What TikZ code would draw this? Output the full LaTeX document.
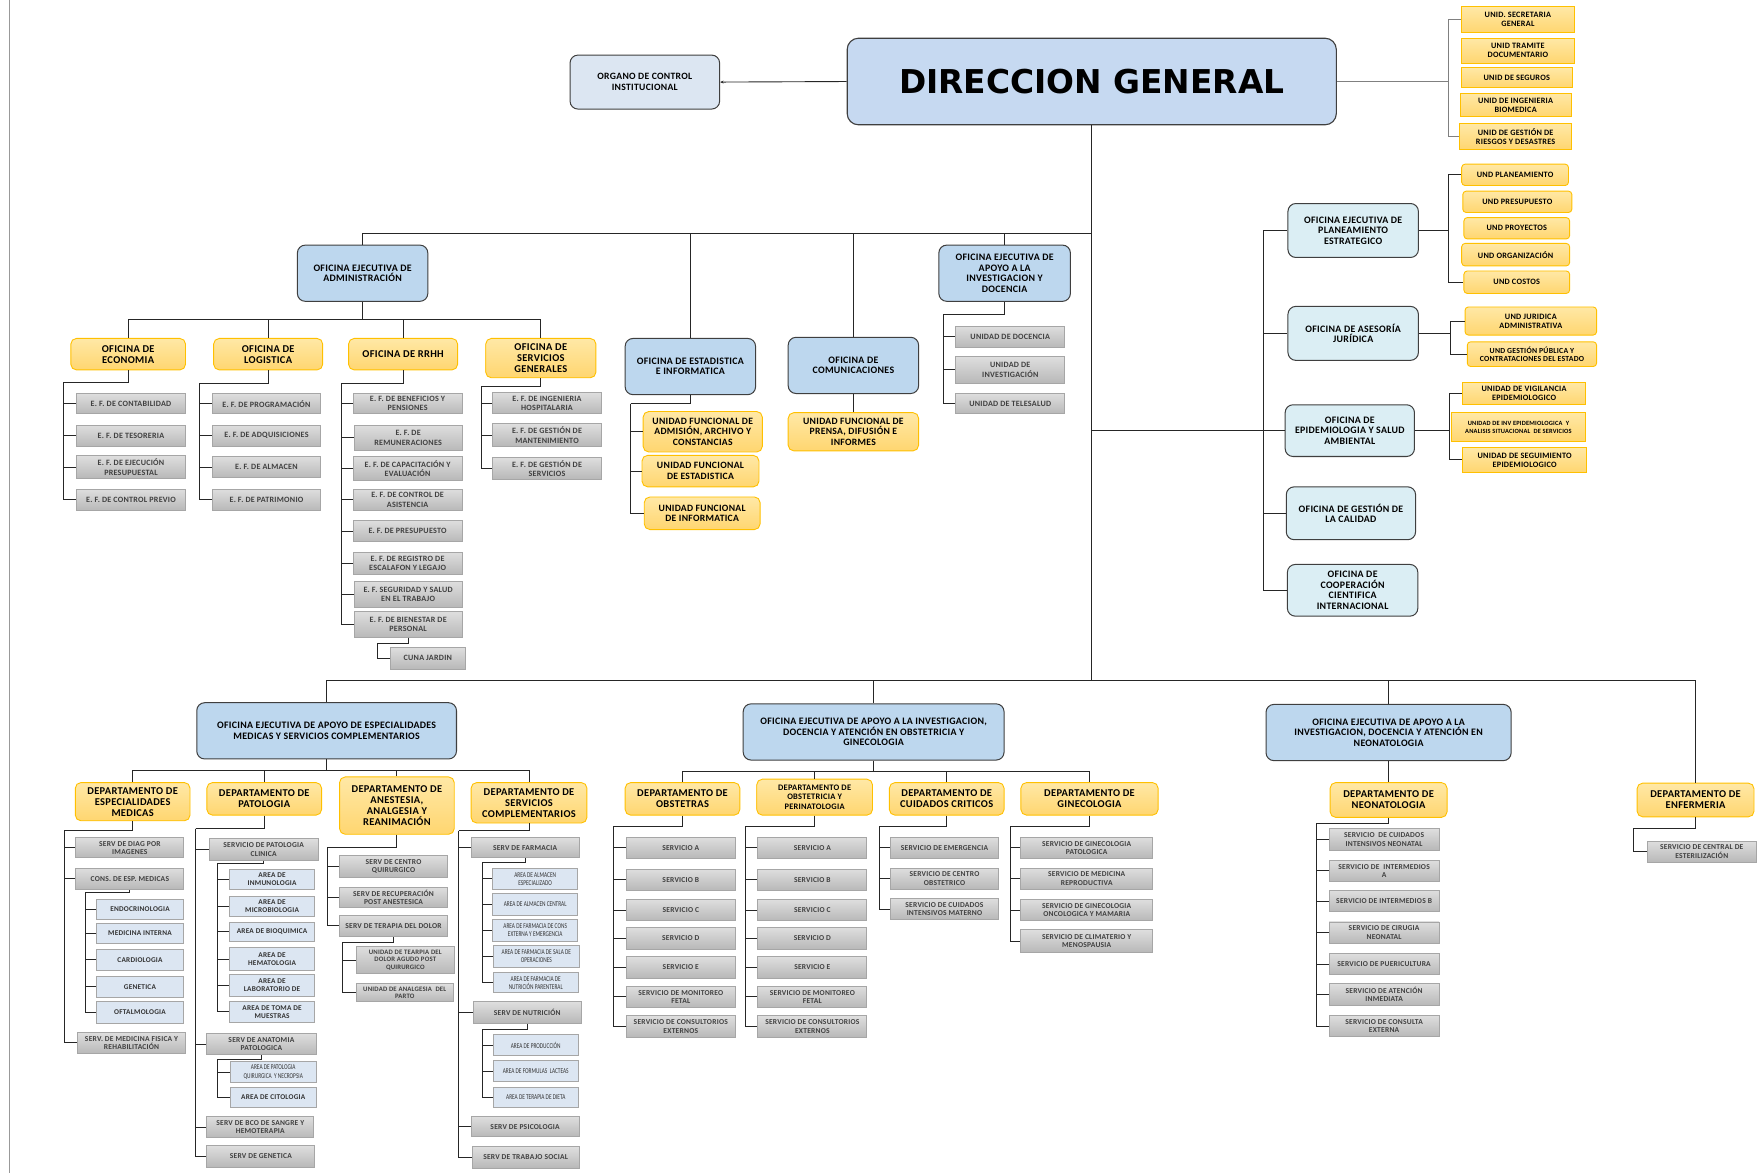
\documentclass[tikz,border=0pt]{standalone}
\usepackage{fontspec}
\setmainfont{Carlito}[LetterSpace=3]
\newfontfamily\dgfont{DejaVu Sans}
\newfontfamily\narrowfont{Carlito}[FakeStretch=0.72]
\usetikzlibrary{arrows.meta}
\definecolor{dgblue}{HTML}{C6D9F1}
\definecolor{oeblue}{HTML}{BDD7EE}
\definecolor{ofblue}{HTML}{DBEEF4}
\definecolor{ocblue}{HTML}{DCE6F2}
\definecolor{areablue}{HTML}{DCE6F2}
\definecolor{ygold}{HTML}{FFC000}
\definecolor{ytop}{HTML}{FFE8A6}
\definecolor{ybot}{HTML}{FFD670}
\definecolor{gtop}{HTML}{DEDEDE}
\definecolor{gbot}{HTML}{B8B8B8}
\definecolor{gline}{HTML}{A6A6A6}
\definecolor{ofline}{HTML}{3F3F3F}

\begin{document}
\begin{tikzpicture}[x=1pt, y=-1pt,
    sz/.style 2 args={minimum width=#1pt, minimum height=#2pt},
    ln/.style={draw=black!85, line width=0.8pt},
    lng/.style={draw=black!50, line width=0.8pt},
    dgbox/.style={draw=ofline, line width=1pt, rounded corners=10pt, fill=dgblue, font=\dgfont\bfseries\fontsize{29.2}{32}\selectfont},
    oebox/.style={draw=ofline, line width=0.9pt, rounded corners=7pt, fill=oeblue, align=center, inner sep=1pt, font=\bfseries\fontsize{8.8}{9.3}\selectfont},
    ofbox/.style={oebox, fill=ofblue},
    ybox/.style={draw=ygold, line width=0.8pt, rounded corners=5pt, top color=ytop, bottom color=ybot, align=center, inner sep=1pt, font=\bfseries\fontsize{9.3}{9.8}\selectfont},
    yunit/.style={ybox, font=\bfseries\fontsize{8.6}{9.4}\selectfont},
    ysm/.style={ybox, rounded corners=3pt, font=\bfseries\fontsize{7.3}{8}\selectfont},
    ysq/.style={ysm, sharp corners},
    gbox/.style={draw=gline, line width=0.8pt, top color=gtop, bottom color=gbot, align=center, inner sep=0.5pt, sz={97}{19}, text=black!75, font=\bfseries\fontsize{6.7}{7.5}\selectfont},
    gboxu/.style={gbox, font=\bfseries\fontsize{7.2}{8.2}\selectfont},
    abox/.style={draw=gline, line width=0.8pt, fill=areablue, align=center, inner sep=0.5pt, sz={76}{19}, text=black!80, font=\bfseries\fontsize{6.5}{7.3}\selectfont},
    nbox/.style={abox, font=\narrowfont\fontsize{6.6}{7.2}\selectfont}
  ]
\useasboundingbox (0,0) rectangle (1568,1043);
\draw[black!40, line width=0.6pt] (8,0) -- (8,1043);

\node[dgbox, sz={435}{77}] (dg) at (971,72.5) {DIRECCION GENERAL};
\node[oebox, fill=ocblue, sz={133}{48}, font=\bfseries\fontsize{8.6}{9.3}\selectfont] (oci) at (573.5,73) {ORGANO DE CONTROL\\INSTITUCIONAL};
\draw[ln, -{Stealth[length=3pt, width=2.5pt]}] (dg.west) -- (oci.east);

\node[ysq, sz={101}{23}] (us1) at (1350,17.5) {UNID. SECRETARIA\\GENERAL};
\node[ysq, sz={101}{22}] (us2) at (1350,45) {UNID TRAMITE\\DOCUMENTARIO};
\node[ysq, sz={99}{18}] (us3) at (1349,69) {UNID DE SEGUROS};
\node[ysq, sz={99}{21}] (us4) at (1348,93.5) {UNID DE INGENIERIA\\BIOMEDICA};
\node[ysq, sz={100}{23}] (us5) at (1348,121.5) {UNID DE GESTIÓN DE\\RIESGOS Y DESASTRES};
\coordinate (usS) at (1288,72.5);
\draw[lng] (dg.east) -- (usS);
\draw[lng] (usS) |- (us1.west);
\draw[lng] (usS) |- (us5.west);

\coordinate (topJ) at (971,208);
\coordinate (midJ) at (971,383);
\coordinate (botJ) at (971,605);
\draw[ln] (dg.south) -- (botJ);

\node[oebox, sz={116}{50}] (oeadm) at (322.5,243) {OFICINA EJECUTIVA DE\\ADMINISTRACIÓN};
\node[oebox, sz={116}{50}] (est) at (614,326) {OFICINA DE ESTADISTICA\\E INFORMATICA};
\node[oebox, sz={116}{50}] (com) at (759,325) {OFICINA DE\\COMUNICACIONES};
\node[oebox, sz={117}{50}] (oeai) at (893.5,243) {OFICINA EJECUTIVA DE\\APOYO A LA\\INVESTIGACION Y\\DOCENCIA};
\foreach \n in {oeadm,est,com,oeai}
  \draw[ln] (topJ) -| (\n.north);

\node[ybox, sz={102}{28}] (eco) at (114,315) {OFICINA DE\\ECONOMIA};
\node[ybox, sz={97}{28}] (log) at (238.5,315) {OFICINA DE\\LOGISTICA};
\node[ybox, sz={97}{28}] (rrhh) at (358.5,315) {OFICINA DE RRHH};
\node[ybox, sz={98}{35}] (sg) at (481,318.5) {OFICINA DE\\SERVICIOS\\GENERALES};
\coordinate (admJ) at (322.5,284);
\draw[ln] (oeadm.south) -- (admJ);
\foreach \n in {eco,log,rrhh,sg}
  \draw[ln] (admJ) -| (\n.north);

\node[gboxu, sz={97}{18}] (ecoA) at (116.5,359) {E. F. DE CONTABILIDAD};
\node[gboxu] (ecoB) at (116.5,387.5) {E. F. DE TESORERIA};
\node[gboxu, sz={97}{20}] (ecoC) at (116.5,415.5) {E. F. DE EJECUCIÓN\\PRESUPUESTAL};
\node[gboxu] (ecoD) at (116.5,444.5) {E. F. DE CONTROL PREVIO};
\coordinate (ecoS) at (56,340);
\draw[ln] (eco.south) |- (ecoS);
\foreach \n in {ecoA,ecoB,ecoC,ecoD}
  \draw[ln] (ecoS) |- (\n.west);

\node[gboxu, sz={96}{18}] (logA) at (237,359) {E. F. DE PROGRAMACIÓN};
\node[gboxu, sz={96}{19}] (logB) at (237,387.5) {E. F. DE ADQUISICIONES};
\node[gboxu, sz={96}{19}] (logC) at (237,415.5) {E. F. DE ALMACEN};
\node[gboxu, sz={96}{19}] (logD) at (237,444.5) {E. F. DE PATRIMONIO};
\coordinate (logS) at (177,341);
\draw[ln] (log.south) |- (logS);
\foreach \n in {logA,logB,logC,logD}
  \draw[ln] (logS) |- (\n.west);

\node[gboxu, sz={97}{18}] (rhA) at (362.5,359) {E. F. DE BENEFICIOS Y\\PENSIONES};
\node[gboxu, sz={96}{23}] (rhB) at (363,389.5) {E. F. DE\\REMUNERACIONES};
\node[gboxu, sz={97}{21}] (rhC) at (362.5,416.5) {E. F. DE CAPACITACIÓN Y\\EVALUACIÓN};
\node[gboxu] (rhD) at (362.5,444.5) {E. F. DE CONTROL DE\\ASISTENCIA};
\node[gboxu] (rhE) at (362.5,472.5) {E. F. DE PRESUPUESTO};
\node[gboxu, sz={97}{20}] (rhF) at (362.5,501) {E. F. DE REGISTRO DE\\ESCALAFON Y LEGAJO};
\node[gboxu, sz={96}{23}] (rhG) at (363,528.5) {E. F. SEGURIDAD Y SALUD\\EN EL TRABAJO};
\node[gboxu, sz={96}{23}] (rhH) at (363,555.5) {E. F. DE BIENESTAR DE\\PERSONAL};
\coordinate (rhS) at (304,341);
\draw[ln] (rrhh.south) |- (rhS);
\foreach \n in {rhA,rhB,rhC,rhD,rhE,rhF,rhG,rhH}
  \draw[ln] (rhS) |- (\n.west);
\node[gboxu, sz={67}{19}] (cuna) at (380.5,585.5) {CUNA JARDIN};
\coordinate (cunaJ) at (336,572);
\draw[ln] (rhH.south) |- (cunaJ) |- (cuna.west);

\node[gboxu, sz={97}{19}] (sgA) at (486.5,358.5) {E. F. DE INGENIERIA\\HOSPITALARIA};
\node[gboxu, sz={97}{20}] (sgB) at (486.5,387) {E. F. DE GESTIÓN DE\\MANTENIMIENTO};
\node[gboxu, sz={97}{19}] (sgC) at (486.5,416.5) {E. F. DE GESTIÓN DE\\SERVICIOS};
\coordinate (sgS) at (428,344);
\draw[ln] (sg.south) |- (sgS);
\foreach \n in {sgA,sgB,sgC}
  \draw[ln] (sgS) |- (\n.west);

\node[yunit, sz={106}{36}] (estA) at (625,384) {UNIDAD FUNCIONAL DE\\ADMISIÓN, ARCHIVO Y\\CONSTANCIAS};
\node[yunit, sz={104}{28}] (estB) at (623,419) {UNIDAD FUNCIONAL\\DE ESTADISTICA};
\node[yunit, sz={103}{29}] (estC) at (624.5,456.5) {UNIDAD FUNCIONAL\\DE INFORMATICA};
\coordinate (estS) at (561,359);
\draw[ln] (est.south) |- (estS);
\foreach \n in {estA,estB,estC}
  \draw[ln] (estS) |- (\n.west);

\node[yunit, sz={116}{34}] (comA) at (759,384) {UNIDAD FUNCIONAL DE\\PRENSA, DIFUSIÓN E\\INFORMES};
\draw[ln] (com.south) -- (comA.north);

\node[gboxu, sz={97}{19}] (aiA) at (898.5,299.5) {UNIDAD DE DOCENCIA};
\node[gboxu, sz={97}{24}] (aiB) at (898.5,329) {UNIDAD DE\\INVESTIGACIÓN};
\node[gboxu, sz={97}{18}] (aiC) at (898.5,359) {UNIDAD DE TELESALUD};
\coordinate (aiS) at (839,280);
\draw[ln] (oeai.south) |- (aiS);
\foreach \n in {aiA,aiB,aiC}
  \draw[ln] (aiS) |- (\n.west);

\node[ofbox, sz={116}{48}] (pla) at (1203.5,205) {OFICINA EJECUTIVA DE\\PLANEAMIENTO\\ESTRATEGICO};
\node[ofbox, sz={116}{48}] (jur) at (1203.5,296.5) {OFICINA DE ASESORÍA\\JURÍDICA};
\node[ofbox, sz={115}{46}] (epi) at (1200.5,383) {OFICINA DE\\EPIDEMIOLOGIA Y SALUD\\AMBIENTAL};
\node[ofbox, sz={115}{47}] (cal) at (1201.5,456.5) {OFICINA DE GESTIÓN DE\\LA CALIDAD};
\node[ofbox, sz={116}{46}] (coo) at (1203,525) {OFICINA DE\\COOPERACIÓN\\CIENTIFICA\\INTERNACIONAL};
\coordinate (rightS) at (1124,383);
\draw[ln] (midJ) -- (epi.west);
\foreach \n in {pla,jur,cal,coo}
  \draw[ln] (rightS) |- (\n.west);

\node[ysm, sz={95}{19}] (plA) at (1347.5,155.5) {UND PLANEAMIENTO};
\node[ysm, sz={97}{19}] (plB) at (1349.5,179.5) {UND PRESUPUESTO};
\node[ysm, sz={94}{19}] (plC) at (1349,203) {UND PROYECTOS};
\node[ysm, sz={96}{20}] (plD) at (1348,226.5) {UND ORGANIZACIÓN};
\node[ysm, sz={94}{20}] (plE) at (1349,251) {UND COSTOS};
\coordinate (plS) at (1288,205);
\draw[ln] (pla.east) -- (plS);
\draw[ln] (plS) |- (plA.west);
\draw[ln] (plS) |- (plE.west);

\node[ysm, sz={117}{25}] (juA) at (1361.5,285.5) {UND JURIDICA\\ADMINISTRATIVA};
\node[ysm, sz={115}{22}, font=\bfseries\fontsize{6.9}{7.8}\selectfont] (juB) at (1362.5,315) {UND GESTIÓN PÚBLICA Y\\CONTRATACIONES DEL ESTADO};
\coordinate (juS) at (1290,296.5);
\draw[ln] (jur.east) -- (juS);
\draw[ln] (juS) |- (juA.west);
\draw[ln] (juS) |- (juB.west);

\node[ysq, sz={109}{20}] (epA) at (1355.5,350) {UNIDAD DE VIGILANCIA\\EPIDEMIOLOGICO};
\node[ysq, sz={119}{26}, font=\bfseries\fontsize{5.7}{6.6}\selectfont] (epB) at (1350.5,380) {UNIDAD DE INV EPIDEMIOLOGICA \ Y\\ANALISIS SITUACIONAL \ DE SERVICIOS};
\node[ysq, sz={110}{22}] (epC) at (1356,409) {UNIDAD DE SEGUIMIENTO\\EPIDEMIOLOGICO};
\coordinate (epS) at (1289,383);
\draw[ln] (epi.east) -- (epS);
\draw[ln] (epS) |- (epA.west);
\draw[ln] (epS) |- (epC.west);

\node[oebox, sz={231}{50}] (oeesp) at (290.5,650) {OFICINA EJECUTIVA DE APOYO DE ESPECIALIDADES\\MEDICAS Y SERVICIOS COMPLEMENTARIOS};
\node[oebox, sz={232}{50}] (oeobs) at (777,651) {OFICINA EJECUTIVA DE APOYO A LA INVESTIGACION,\\DOCENCIA Y ATENCIÓN EN OBSTETRICIA Y\\GINECOLOGIA};
\node[oebox, sz={218}{50}] (oeneo) at (1235,651.5) {OFICINA EJECUTIVA DE APOYO A LA\\INVESTIGACION, DOCENCIA Y ATENCIÓN EN\\NEONATOLOGIA};
\node[ybox, sz={104}{30}] (enf) at (1508,711.5) {DEPARTAMENTO DE\\ENFERMERIA};
\foreach \n in {oeesp,oeobs,oeneo,enf}
  \draw[ln] (botJ) -| (\n.north);

\node[ybox, sz={102}{34}] (dem) at (118,713) {DEPARTAMENTO DE\\ESPECIALIDADES\\MEDICAS};
\node[ybox, sz={102}{29}] (dpa) at (235,710.5) {DEPARTAMENTO DE\\PATOLOGIA};
\node[ybox, sz={102}{51}] (dan) at (353,716.5) {DEPARTAMENTO DE\\ANESTESIA,\\ANALGESIA Y\\REANIMACIÓN};
\node[ybox, sz={103}{36}] (dsc) at (470.5,714) {DEPARTAMENTO DE\\SERVICIOS\\COMPLEMENTARIOS};
\coordinate (espJ) at (290.5,685);
\draw[ln] (oeesp.south) -- (espJ);
\foreach \n in {dem,dpa,dan,dsc}
  \draw[ln] (espJ) -| (\n.north);

\node[gbox, sz={96}{18}] (demA) at (115.5,754) {SERV DE DIAG POR\\IMAGENES};
\node[gbox, sz={96}{19}] (demB) at (115.5,781.5) {CONS. DE ESP. MEDICAS};
\node[gbox, sz={96}{19}] (demC) at (117,927.5) {SERV. DE MEDICINA FISICA Y\\REHABILITACIÓN};
\coordinate (demS) at (57,739);
\draw[ln] (dem.south) |- (demS);
\foreach \n in {demA,demB,demC}
  \draw[ln] (demS) |- (\n.west);
\node[abox, sz={77}{18}] (cemA) at (124.5,809) {ENDOCRINOLOGIA};
\node[abox, sz={77}{18}] (cemB) at (124.5,830) {MEDICINA INTERNA};
\node[abox, sz={77}{19}] (cemC) at (124.5,853.5) {CARDIOLOGIA};
\node[abox, sz={77}{19}] (cemD) at (124.5,877.5) {GENETICA};
\node[abox, sz={77}{19}] (cemE) at (124.5,900.5) {OFTALMOLOGIA};
\coordinate (cemS) at (76,794);
\draw[ln] (demB.south) |- (cemS);
\foreach \n in {cemA,cemB,cemC,cemD,cemE}
  \draw[ln] (cemS) |- (\n.west);

\node[gbox] (dpaA) at (234.5,755.5) {SERVICIO DE PATOLOGIA\\CLINICA};
\node[gbox] (dpaB) at (232.5,928.5) {SERV DE ANATOMIA\\PATOLOGICA};
\node[gbox, sz={95}{19}] (dpaC) at (231.5,1002.5) {SERV DE BCO DE SANGRE Y\\HEMOTERAPIA};
\node[gbox, sz={96}{19}] (dpaD) at (232,1028.5) {SERV DE GENETICA};
\coordinate (dpaS) at (174,737);
\draw[ln] (dpa.south) |- (dpaS);
\foreach \n in {dpaA,dpaB,dpaC,dpaD}
  \draw[ln] (dpaS) |- (\n.west);
\node[abox, sz={76}{18}] (pcA) at (242,782) {AREA DE\\INMUNOLOGIA};
\node[abox, sz={76}{18}] (pcB) at (242,806) {AREA DE\\MICROBIOLOGIA};
\node[abox, sz={76}{17}] (pcC) at (242,828.5) {AREA DE BIOQUIMICA};
\node[abox, sz={76}{20}] (pcD) at (242,853) {AREA DE\\HEMATOLOGIA};
\node[abox, sz={76}{19}] (pcE) at (242,876.5) {AREA DE\\LABORATORIO DE};
\node[abox, sz={76}{18}] (pcF) at (242,900) {AREA DE TOMA DE\\MUESTRAS};
\coordinate (pcS) at (193,768);
\draw[ln] (dpaA.south) |- (pcS);
\foreach \n in {pcA,pcB,pcC,pcD,pcE,pcF}
  \draw[ln] (pcS) |- (\n.west);
\node[nbox, sz={76}{19}] (apA) at (243,953.5) {AREA DE PATOLOGIA\\QUIRURGICA \ Y NECROPSIA};
\node[abox, sz={76}{18}] (apB) at (243,976) {AREA DE CITOLOGIA};
\coordinate (apS) at (193,942);
\draw[ln] (dpaB.south) |- (apS);
\foreach \n in {apA,apB}
  \draw[ln] (apS) |- (\n.west);

\node[gbox, sz={96}{19}] (danA) at (350,770.5) {SERV DE CENTRO\\QUIRURGICO};
\node[gbox, sz={96}{18}] (danB) at (350,798) {SERV DE RECUPERACIÓN\\POST ANESTESICA};
\node[gbox, sz={96}{19}] (danC) at (350,823.5) {SERV DE TERAPIA DEL DOLOR};
\coordinate (danS) at (291,754);
\draw[ln] (dan.south) |- (danS);
\foreach \n in {danA,danB,danC}
  \draw[ln] (danS) |- (\n.west);
\node[gbox, sz={87}{24}, font=\bfseries\fontsize{6}{6.8}\selectfont] (tdA) at (360.5,854) {UNIDAD DE TEARPIA DEL\\DOLOR AGUDO POST\\QUIRURGICO};
\node[gbox, sz={86}{16}, font=\bfseries\fontsize{6}{6.6}\selectfont] (tdB) at (360,883) {UNIDAD DE ANALGESIA \ DEL\\PARTO};
\coordinate (tdS) at (305,838);
\draw[ln] (danC.south) |- (tdS);
\foreach \n in {tdA,tdB}
  \draw[ln] (tdS) |- (\n.west);

\node[gbox, sz={96}{18}] (dscA) at (467,754) {SERV DE FARMACIA};
\node[gbox, sz={96}{19}] (dscB) at (469,900.5) {SERV DE NUTRICIÓN};
\node[gbox, sz={96}{18}] (dscC) at (467,1002) {SERV DE PSICOLOGIA};
\node[gbox, sz={95}{19}] (dscD) at (467.5,1029.5) {SERV DE TRABAJO SOCIAL};
\coordinate (dscS) at (408,739);
\draw[ln] (dsc.south) |- (dscS);
\foreach \n in {dscA,dscB,dscC,dscD}
  \draw[ln] (dscS) |- (\n.west);
\node[nbox] (faA) at (476,781.5) {AREA DE ALMACEN\\ESPECIALIZADO};
\node[nbox] (faB) at (476,804.5) {AREA DE ALMACEN CENTRAL};
\node[nbox] (faC) at (476,827.5) {AREA DE FARMACIA DE CONS\\EXTERNA Y EMERGENCIA};
\node[nbox, sz={77}{19}] (faD) at (477,850.5) {AREA DE FARMACIA DE SALA DE\\OPERACIONES};
\node[nbox, sz={76}{18}] (faE) at (476.5,874) {AREA DE FARMACIA DE\\NUTRICIÓN PARENTERAL};
\coordinate (faS) at (429,767);
\draw[ln] (dscA.south) |- (faS);
\foreach \n in {faA,faB,faC,faD,faE}
  \draw[ln] (faS) |- (\n.west);
\node[nbox] (nuA) at (476.5,929.5) {AREA DE PRODUCCIÓN};
\node[nbox] (nuB) at (476.5,952.5) {AREA DE FORMULAS \ LACTEAS};
\node[nbox, sz={76}{18}] (nuC) at (476.5,976) {AREA DE TERAPIA DE DIETA};
\coordinate (nuS) at (429,916);
\draw[ln] (dscB.south) |- (nuS);
\foreach \n in {nuA,nuB,nuC}
  \draw[ln] (nuS) |- (\n.west);

\node[ybox, sz={102}{29}] (dob) at (607,710.5) {DEPARTAMENTO DE\\OBSTETRAS};
\node[ybox, sz={103}{32}, font=\bfseries\fontsize{7.5}{8.2}\selectfont] (dpe) at (724.5,709) {DEPARTAMENTO DE\\OBSTETRICIA Y\\PERINATOLOGIA};
\node[ybox, sz={102}{29}] (dcc) at (842,710.5) {DEPARTAMENTO DE\\CUIDADOS CRITICOS};
\node[ybox, sz={122}{29}] (dgi) at (969,710.5) {DEPARTAMENTO DE\\GINECOLOGIA};
\coordinate (obsJ) at (777,686);
\draw[ln] (oeobs.south) -- (obsJ);
\foreach \n in {dob,dpe,dcc,dgi}
  \draw[ln] (obsJ) -| (\n.north);

\coordinate (dobS) at (546,735);
\coordinate (dpeS) at (663,735);
\draw[ln] (dob.south) |- (dobS);
\draw[ln] (dpe.south) |- (dpeS);
\foreach \k/\y/\txt in {a/754/{SERVICIO A}, b/782.5/{SERVICIO B}, c/809.5/{SERVICIO C}, d/834.5/{SERVICIO D}, e/860.5/{SERVICIO E}, f/886.5/{SERVICIO DE MONITOREO\\FETAL}, g/913/{SERVICIO DE CONSULTORIOS\\EXTERNOS}} {
  \node[gbox] (dob\k) at (605.5,\y) {\txt};
  \node[gbox] (dpe\k) at (722.5,\y) {\txt};
  \draw[ln] (dobS) |- (dob\k.west);
  \draw[ln] (dpeS) |- (dpe\k.west);
}

\node[gbox, sz={96}{19}] (dccA) at (840,754) {SERVICIO DE EMERGENCIA};
\node[gbox, sz={96}{19}] (dccB) at (840,781.5) {SERVICIO DE CENTRO\\OBSTETRICO};
\node[gbox, sz={96}{19}] (dccC) at (840,808.5) {SERVICIO DE CUIDADOS\\INTENSIVOS MATERNO};
\coordinate (dccS) at (782,735);
\draw[ln] (dcc.south) |- (dccS);
\foreach \n in {dccA,dccB,dccC}
  \draw[ln] (dccS) |- (\n.west);

\node[gbox, sz={117}{19}] (dgiA) at (966.5,754) {SERVICIO DE GINECOLOGIA\\PATOLOGICA};
\node[gbox, sz={117}{19}] (dgiB) at (966.5,781.5) {SERVICIO DE MEDICINA\\REPRODUCTIVA};
\node[gbox, sz={117}{19}] (dgiC) at (966.5,809.5) {SERVICIO DE GINECOLOGIA\\ONCOLOGICA Y MAMARIA};
\node[gbox, sz={117}{20}] (dgiD) at (966.5,837) {SERVICIO DE CLIMATERIO Y\\MENOSPAUSIA};
\coordinate (dgiS) at (899,735);
\draw[ln] (dgi.south) |- (dgiS);
\foreach \n in {dgiA,dgiB,dgiC,dgiD}
  \draw[ln] (dgiS) |- (\n.west);

\node[ybox, sz={104}{31}] (dne) at (1235,711.5) {DEPARTAMENTO DE\\NEONATOLOGIA};
\draw[ln] (oeneo.south) -- (dne.north);
\node[gbox, sz={98}{19}] (neA) at (1231,746.5) {SERVICIO \ DE CUIDADOS\\INTENSIVOS NEONATAL};
\node[gbox, sz={98}{19}] (neB) at (1231,774.5) {SERVICIO DE \ INTERMEDIOS\\A};
\node[gbox, sz={98}{19}] (neC) at (1231,801.5) {SERVICIO DE INTERMEDIOS B};
\node[gbox, sz={98}{19}] (neD) at (1231,829.5) {SERVICIO DE CIRUGIA\\NEONATAL};
\node[gbox, sz={98}{19}] (neE) at (1231,857.5) {SERVICIO DE PUERICULTURA};
\node[gbox, sz={98}{19}] (neF) at (1231,884.5) {SERVICIO DE ATENCIÓN\\INMEDIATA};
\node[gbox, sz={98}{19}] (neG) at (1231,912.5) {SERVICIO DE CONSULTA\\EXTERNA};
\coordinate (neS) at (1171,732);
\draw[ln] (dne.south) |- (neS);
\foreach \n in {neA,neB,neC,neD,neE,neF,neG}
  \draw[ln] (neS) |- (\n.west);

\node[gbox, sz={97}{19}] (enfA) at (1513.5,757.5) {SERVICIO DE CENTRAL DE\\ESTERILIZACIÓN};
\coordinate (enfS) at (1453,737);
\draw[ln] (enf.south) |- (enfS) |- (enfA.west);
\end{tikzpicture}
\end{document}
